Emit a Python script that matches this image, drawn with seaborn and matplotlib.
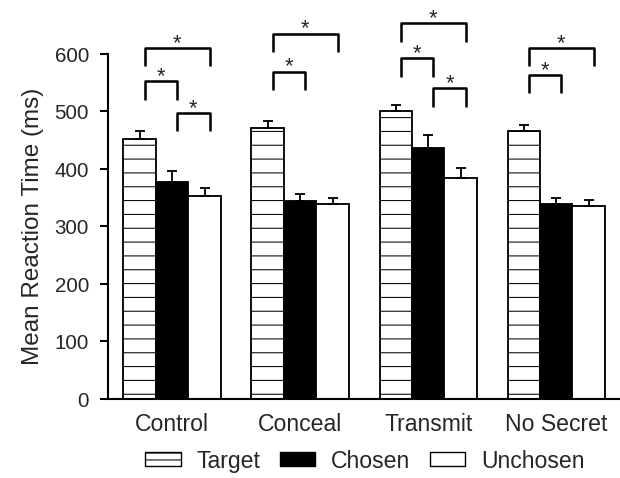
import numpy as np
import pandas as pd
import matplotlib
matplotlib.use("Agg")
import matplotlib.pyplot as plt
from matplotlib.patches import Patch
import seaborn as sns

conditions = ["Control", "Conceal", "Transmit", "No Secret"]
trial_types = ["Target", "Chosen", "Unchosen"]

# mean reaction time (ms)
target_rt = [452, 471, 501, 465]
chosen_rt = [377, 344, 437, 338]
unchosen_rt = [353, 338, 384, 335]

# error bars (upper only)
target_se = [13, 12, 10, 11]
chosen_se = [19, 12, 21, 12]
unchosen_se = [14, 11, 17, 10]

# significance brackets: (condition, bar a, bar b, top of bracket in ms)
brackets = [
    (0, 0, 2, 610), (0, 0, 1, 552), (0, 1, 2, 497),
    (1, 0, 2, 635), (1, 0, 1, 569),
    (2, 0, 2, 653), (2, 0, 1, 592), (2, 1, 2, 540),
    (3, 0, 2, 610), (3, 0, 1, 563),
]

rows = []
for i, cond in enumerate(conditions):
    for t, vals in zip(trial_types, [target_rt, chosen_rt, unchosen_rt]):
        rows.append({"condition": cond, "trial": t, "rt": vals[i]})
df = pd.DataFrame(rows)

sns.set_theme(style="ticks")
plt.rcParams["font.family"] = ["Liberation Sans", "DejaVu Sans"]
plt.rcParams["hatch.linewidth"] = 0.9
plt.rcParams["hatch.color"] = "black"

DPI = 83
fig = plt.figure(figsize=(620.3 / DPI, 478.3 / DPI), dpi=DPI)
ax = fig.add_axes([108 / 620, 1 - 399 / 478, 1 - 108 / 620, (399 - 54) / 478])

sns.barplot(data=df, x="condition", y="rt", hue="trial", order=conditions,
            hue_order=trial_types, palette=["white", "black", "white"],
            saturation=1, edgecolor="black", linewidth=1.6, width=0.76,
            gap=0, errorbar=None, legend=False, ax=ax)

# hatch the target bars
for p in ax.containers[0]:
    p.set_hatch("-")

# upward error bars
for cont, errs in zip(ax.containers, [target_se, chosen_se, unchosen_se]):
    xs = [p.get_x() + p.get_width() / 2 for p in cont]
    ys = [p.get_height() for p in cont]
    ax.errorbar(xs, ys, yerr=[np.zeros(len(errs)), errs], fmt="none",
                ecolor="black", elinewidth=1.6, capsize=4.3, capthick=1.6)

# significance brackets
off = 0.04
leg = 32
for g, a, b, top in brackets:
    pa = ax.containers[a][g]
    pb = ax.containers[b][g]
    xa = pa.get_x() + pa.get_width() / 2 + off
    xb = pb.get_x() + pb.get_width() / 2 + off
    ax.plot([xa, xa, xb, xb], [top - leg, top, top, top - leg],
            color="black", lw=2.2, clip_on=False, solid_capstyle="butt")
    ax.text((xa + xb) / 2, top - 1, "*", ha="center", va="baseline",
            fontsize=19, clip_on=False)

ax.set_xlim(-0.5, 3.5)
ax.set_ylim(0, 600)
ax.set_yticks(range(0, 601, 100))
ax.set_xlabel("")
ax.set_ylabel("Mean Reaction Time (ms)", fontsize=21, labelpad=9)
ax.tick_params(axis="y", direction="out", length=7, width=1.8,
               labelsize=17.8, pad=9.5, color="black")
ax.tick_params(axis="x", length=0, labelsize=20, pad=12)
sns.despine(ax=ax)
for s in ["left", "bottom"]:
    ax.spines[s].set_linewidth(1.8)
    ax.spines[s].set_color("black")

handles = [
    Patch(facecolor="white", edgecolor="black", hatch="--", linewidth=1.2),
    Patch(facecolor="black", edgecolor="black", linewidth=1.2),
    Patch(facecolor="white", edgecolor="black", linewidth=1.2),
]
fig.legend(handles, trial_types, loc="center",
           bbox_to_anchor=(365 / 620, 1 - 461 / 478), ncol=3, frameon=False,
           fontsize=20, handlelength=1.52, handleheight=0.57,
           handletextpad=0.7, columnspacing=0.85)

fig.savefig("out.png", dpi=DPI)
